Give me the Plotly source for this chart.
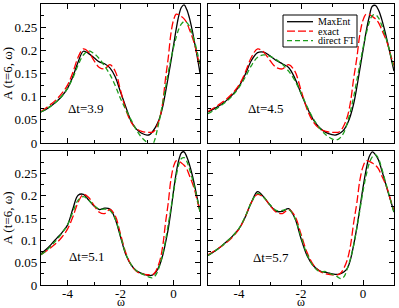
import plotly.graph_objects as go

omega = [-5.0, -4.8, -4.6, -4.4, -4.2, -4.0, -3.8, -3.6, -3.4, -3.2, -3.0, -2.8, -2.6, -2.4, -2.2,
         -2.0, -1.8, -1.6, -1.4, -1.2, -1.0, -0.9, -0.8, -0.7, -0.6, -0.5, -0.4, -0.3, -0.2, -0.1,
         0.0, 0.1, 0.2, 0.3, 0.4, 0.5, 0.6, 0.7, 0.8, 0.9, 1.0]

exact = [0.068, 0.076, 0.085, 0.095, 0.108, 0.125, 0.152, 0.185, 0.203, 0.196, 0.178, 0.163, 0.160, 0.169, 0.155,
         0.114, 0.072, 0.045, 0.031, 0.025, 0.023, 0.023, 0.023, 0.028, 0.040, 0.058, 0.090, 0.140, 0.183, 0.235,
         0.265, 0.278, 0.277, 0.273, 0.268, 0.260, 0.245, 0.230, 0.212, 0.188, 0.167]

maxent_39 = [0.067, 0.073, 0.081, 0.090, 0.102, 0.118, 0.143, 0.175, 0.198, 0.193, 0.184, 0.175, 0.171, 0.162, 0.143,
             0.110, 0.078, 0.047, 0.030, 0.021, 0.017, 0.018, 0.024, 0.032, 0.043, 0.058, 0.080, 0.110, 0.142, 0.175,
             0.210, 0.245, 0.275, 0.293, 0.298, 0.288, 0.270, 0.245, 0.215, 0.185, 0.151]
direct_39 = [0.067, 0.073, 0.081, 0.090, 0.102, 0.118, 0.140, 0.168, 0.190, 0.199, 0.193, 0.182, 0.166, 0.148, 0.124,
             0.096, 0.072, 0.050, 0.028, 0.012, 0.001, -0.006, -0.004, 0.008, 0.032, 0.058, 0.088, 0.120, 0.152, 0.180,
             0.206, 0.228, 0.246, 0.257, 0.262, 0.260, 0.252, 0.237, 0.218, 0.195, 0.170]

maxent_45 = [0.067, 0.074, 0.082, 0.092, 0.105, 0.122, 0.148, 0.178, 0.195, 0.196, 0.188, 0.178, 0.171, 0.163, 0.140,
             0.107, 0.076, 0.050, 0.033, 0.023, 0.018, 0.017, 0.019, 0.023, 0.030, 0.042, 0.060, 0.085, 0.120, 0.160,
             0.200, 0.240, 0.272, 0.295, 0.297, 0.287, 0.268, 0.243, 0.215, 0.185, 0.155]
direct_45 = [0.063, 0.071, 0.080, 0.090, 0.103, 0.120, 0.142, 0.167, 0.185, 0.190, 0.187, 0.180, 0.170, 0.155, 0.135,
             0.108, 0.078, 0.052, 0.032, 0.018, 0.009, 0.007, 0.008, 0.014, 0.025, 0.045, 0.070, 0.100, 0.135, 0.170,
             0.205, 0.235, 0.260, 0.275, 0.277, 0.270, 0.255, 0.235, 0.213, 0.187, 0.160]

maxent_51 = [0.070, 0.080, 0.092, 0.105, 0.118, 0.134, 0.170, 0.201, 0.203, 0.190, 0.177, 0.169, 0.172, 0.170, 0.148,
             0.108, 0.068, 0.045, 0.032, 0.026, 0.022, 0.021, 0.022, 0.026, 0.035, 0.048, 0.068, 0.095, 0.125, 0.165,
             0.210, 0.250, 0.280, 0.296, 0.298, 0.287, 0.270, 0.248, 0.222, 0.193, 0.164]
direct_51 = [0.068, 0.077, 0.089, 0.102, 0.117, 0.135, 0.163, 0.190, 0.198, 0.190, 0.178, 0.170, 0.170, 0.167, 0.148,
             0.110, 0.070, 0.046, 0.032, 0.025, 0.020, 0.017, 0.016, 0.020, 0.030, 0.048, 0.072, 0.100, 0.135, 0.170,
             0.207, 0.243, 0.270, 0.283, 0.285, 0.277, 0.260, 0.240, 0.217, 0.192, 0.165]

maxent_57 = [0.066, 0.075, 0.085, 0.097, 0.110, 0.126, 0.152, 0.185, 0.209, 0.197, 0.179, 0.165, 0.165, 0.171, 0.150,
             0.104, 0.065, 0.043, 0.032, 0.028, 0.025, 0.024, 0.024, 0.026, 0.030, 0.038, 0.058, 0.090, 0.128, 0.172,
             0.218, 0.258, 0.287, 0.298, 0.292, 0.280, 0.258, 0.234, 0.210, 0.187, 0.163]
direct_57 = [0.066, 0.075, 0.085, 0.097, 0.110, 0.127, 0.153, 0.185, 0.205, 0.196, 0.180, 0.167, 0.167, 0.169, 0.150,
             0.108, 0.068, 0.042, 0.030, 0.030, 0.024, 0.022, 0.017, 0.014, 0.020, 0.038, 0.060, 0.090, 0.127, 0.168,
             0.210, 0.245, 0.272, 0.287, 0.292, 0.283, 0.262, 0.237, 0.212, 0.187, 0.162]

panel_labels = ["\u0394t=3.9", "\u0394t=4.5", "\u0394t=5.1", "\u0394t=5.7"]
maxent_sets = [maxent_39, maxent_45, maxent_51, maxent_57]
direct_sets = [direct_39, direct_45, direct_51, direct_57]
series_names = ["MaxEnt", "exact", "direct FT"]

x_tick_vals = [-4, -2, 0]
x_tick_text = ["-4", "-2", "0"]
y_tick_vals = [0, 0.05, 0.1, 0.15, 0.2, 0.25]
y_tick_text = ["0", "0.05", "0.1", "0.15", "0.2", "0.25"]

SERIF = "Liberation Serif, Times New Roman, Times, serif"
GREEN = "#1e9e1e"
series_colors = ["black", "red", GREEN]
series_dash = ["solid", "8px,3px", "5px,3px"]
LW = 1.3

fig = go.Figure()

axis_ids = [("x", "y"), ("x2", "y2"), ("x3", "y3"), ("x4", "y4")]
for i, (xa, ya) in enumerate(axis_ids):
    for k, yvals in enumerate([maxent_sets[i], exact, direct_sets[i]]):
        fig.add_trace(go.Scatter(x=omega, y=yvals, mode="lines", name=series_names[k],
                                 line=dict(color=series_colors[k], width=LW, dash=series_dash[k],
                                           shape="spline"),
                                 xaxis=xa, yaxis=ya, showlegend=False))

W, H = 399, 308
ml, mr, mt, mb = 41, 5, 4, 23
pw, ph = W - ml - mr, H - mt - mb

def fx(px):
    return (px - ml) / pw

def fy(py):
    return (H - mb - py) / ph

x_domains = [[fx(41), fx(200)], [fx(208), fx(394)], [fx(41), fx(200)], [fx(208), fx(394)]]
y_domains = [[fy(143), fy(4)], [fy(143), fy(4)], [fy(285), fy(151)], [fy(285), fy(151)]]

def base_axis():
    return dict(showgrid=False, zeroline=False, showline=True, linecolor="black", linewidth=1.2,
                mirror="allticks", ticks="inside", ticklen=5, tickwidth=1, tickcolor="black",
                automargin=False,
                tickfont=dict(family=SERIF, size=13, color="black"))

layout = dict(width=W, height=H, margin=dict(l=ml, r=mr, t=mt, b=mb, autoexpand=False),
              paper_bgcolor="white", plot_bgcolor="white", showlegend=False,
              font=dict(family=SERIF, size=13, color="black"))

for i in range(4):
    sfx = "" if i == 0 else str(i + 1)
    xa = base_axis()
    xa.update(domain=x_domains[i], range=[-5, 1], tickmode="array", tickvals=x_tick_vals,
              ticktext=x_tick_text, showticklabels=(i >= 2), anchor="y" + sfx,
              ticklabelstandoff=-4,
              minor=dict(ticks="inside", ticklen=3, dtick=1, tick0=0, tickcolor="black"))
    ya = base_axis()
    ya.update(domain=y_domains[i], range=[0, 0.3], tickmode="array", tickvals=y_tick_vals,
              ticktext=y_tick_text, showticklabels=(i % 2 == 0), anchor="x" + sfx,
              minor=dict(ticks="inside", ticklen=3, dtick=0.025, tick0=0, tickcolor="black"))
    if i % 2 == 0:
        ya.update(title=dict(text="A (t=6, \u03c9)", font=dict(family=SERIF, size=13), standoff=4))
    layout["xaxis" + sfx] = xa
    layout["yaxis" + sfx] = ya

annotations = []
ann_pos = [(-3.3, 0.075), (-3.14, 0.074), (-3.28, 0.064), (-2.96, 0.062)]
for i in range(4):
    sfx = "" if i == 0 else str(i + 1)
    annotations.append(dict(x=ann_pos[i][0], y=ann_pos[i][1], xref="x" + sfx, yref="y" + sfx,
                            text=panel_labels[i], showarrow=False,
                            font=dict(family=SERIF, size=13, color="black")))
# x-axis titles
for cx in [(41 + 200) / 2, (208 + 394) / 2]:
    annotations.append(dict(x=fx(cx), y=fy(302), xref="paper", yref="paper", text="\u03c9",
                            showarrow=False, xanchor="center", yanchor="middle", borderpad=0,
                            font=dict(family=SERIF, size=12, color="black")))

# legend box (drawn in the top-right panel's corner)
shapes = [dict(type="rect", xref="paper", yref="paper", x0=fx(283), x1=fx(357), y0=fy(47), y1=fy(15),
               line=dict(color="black", width=1), fillcolor="white", layer="above")]
row_y = [21.7, 31.2, 40.7]
for k in range(3):
    shapes.append(dict(type="line", xref="paper", yref="paper", x0=fx(287), x1=fx(313),
                       y0=fy(row_y[k]), y1=fy(row_y[k]), layer="above",
                       line=dict(color=series_colors[k], width=LW, dash=series_dash[k])))
    annotations.append(dict(x=fx(317), y=fy(row_y[k]), xref="paper", yref="paper",
                            text=series_names[k], showarrow=False, xanchor="left", yanchor="middle",
                            borderpad=0, font=dict(family=SERIF, size=10, color="black")))
layout["annotations"] = annotations
layout["shapes"] = shapes

fig.update_layout(**layout)
fig.write_html("out.html", config={"displayModeBar": False},
               post_script="document.body.style.margin='0';document.body.style.padding='0';"
                           "document.body.style.overflow='hidden';")
